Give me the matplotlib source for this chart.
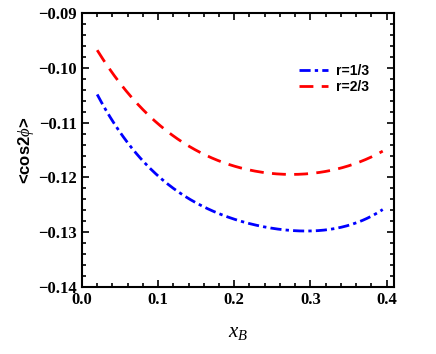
import numpy as np
import matplotlib
matplotlib.use("Agg")
import matplotlib.pyplot as plt
from matplotlib.ticker import MultipleLocator

plt.rcParams['mathtext.fontset'] = 'custom'
plt.rcParams['mathtext.rm'] = 'Liberation Serif'
plt.rcParams['mathtext.it'] = 'Liberation Serif:italic'
plt.rcParams['mathtext.bf'] = 'Liberation Serif:bold'

x_b = [0.02, 0.05, 0.10, 0.15, 0.20, 0.25, 0.285, 0.30, 0.35, 0.395]
r13 = [-0.1046, -0.1123, -0.1193, -0.1246, -0.1278, -0.1292, -0.1298, -0.1298, -0.1286, -0.1259]
x_r = [0.02, 0.05, 0.10, 0.15, 0.20, 0.25, 0.275, 0.30, 0.35, 0.395]
r23 = [-0.0966, -0.1031, -0.1102, -0.1148, -0.1179, -0.1194, -0.1196, -0.1193, -0.1176, -0.1153]

def smooth(xs, ys):
    c = np.polyfit(xs, ys, 4)
    xx = np.linspace(xs[0], xs[-1], 200)
    return xx, np.polyval(c, xx)

fig = plt.figure(figsize=(4.36, 3.54), dpi=100)
ax = fig.add_axes([0.188, 0.189, 0.716, 0.774])

xx, yy = smooth(x_b, r13)
ax.plot(xx, yy, color='#0000ff', lw=2.0, linestyle=(0, (4, 1.5, 1.2, 1.5)), label='r=1/3')
xx, yy = smooth(x_r, r23)
ax.plot(xx, yy, color='#ff0000', lw=2.0, linestyle=(0, (5, 3)), label='r=2/3')

ax.set_xlim(0, 0.41)
ax.set_ylim(-0.14, -0.09)
ax.xaxis.set_major_locator(MultipleLocator(0.1))
ax.xaxis.set_minor_locator(MultipleLocator(0.02))
ax.yaxis.set_major_locator(MultipleLocator(0.01))
ax.yaxis.set_minor_locator(MultipleLocator(0.002))
ax.set_xticks([0.0, 0.1, 0.2, 0.3, 0.4])
ax.set_xticklabels(['0.0', '0.1', '0.2', '0.3', '0.4'])
yt = [-0.14, -0.13, -0.12, -0.11, -0.10, -0.09]
ax.set_yticks(yt)
ax.set_yticklabels(['\u22120.14', '\u22120.13', '\u22120.12', '\u22120.11', '\u22120.10', '\u22120.09'])
ax.tick_params(which='both', direction='in', top=True, right=True, width=1.2)
ax.tick_params(which='major', length=5)
ax.tick_params(which='minor', length=3)
for lab in ax.get_xticklabels() + ax.get_yticklabels():
    lab.set_family('Liberation Serif')
    lab.set_fontweight('bold')
    lab.set_fontsize(12)
for s in ax.spines.values():
    s.set_linewidth(1.5)

ax.set_xlabel(r'$x_B$', fontsize=15, labelpad=10)
ax.set_ylabel(r'<cos2$\it{\phi}$>', fontsize=12, fontweight='bold', family='Liberation Sans', labelpad=2)

leg = ax.legend(loc='upper right', bbox_to_anchor=(0.96, 0.86), frameon=False,
                prop={'family': 'Liberation Sans', 'size': 10, 'weight': 'bold'}, handlelength=2.1,
                handletextpad=0.6, labelspacing=0.15)

fig.savefig('out.png', dpi=100)
